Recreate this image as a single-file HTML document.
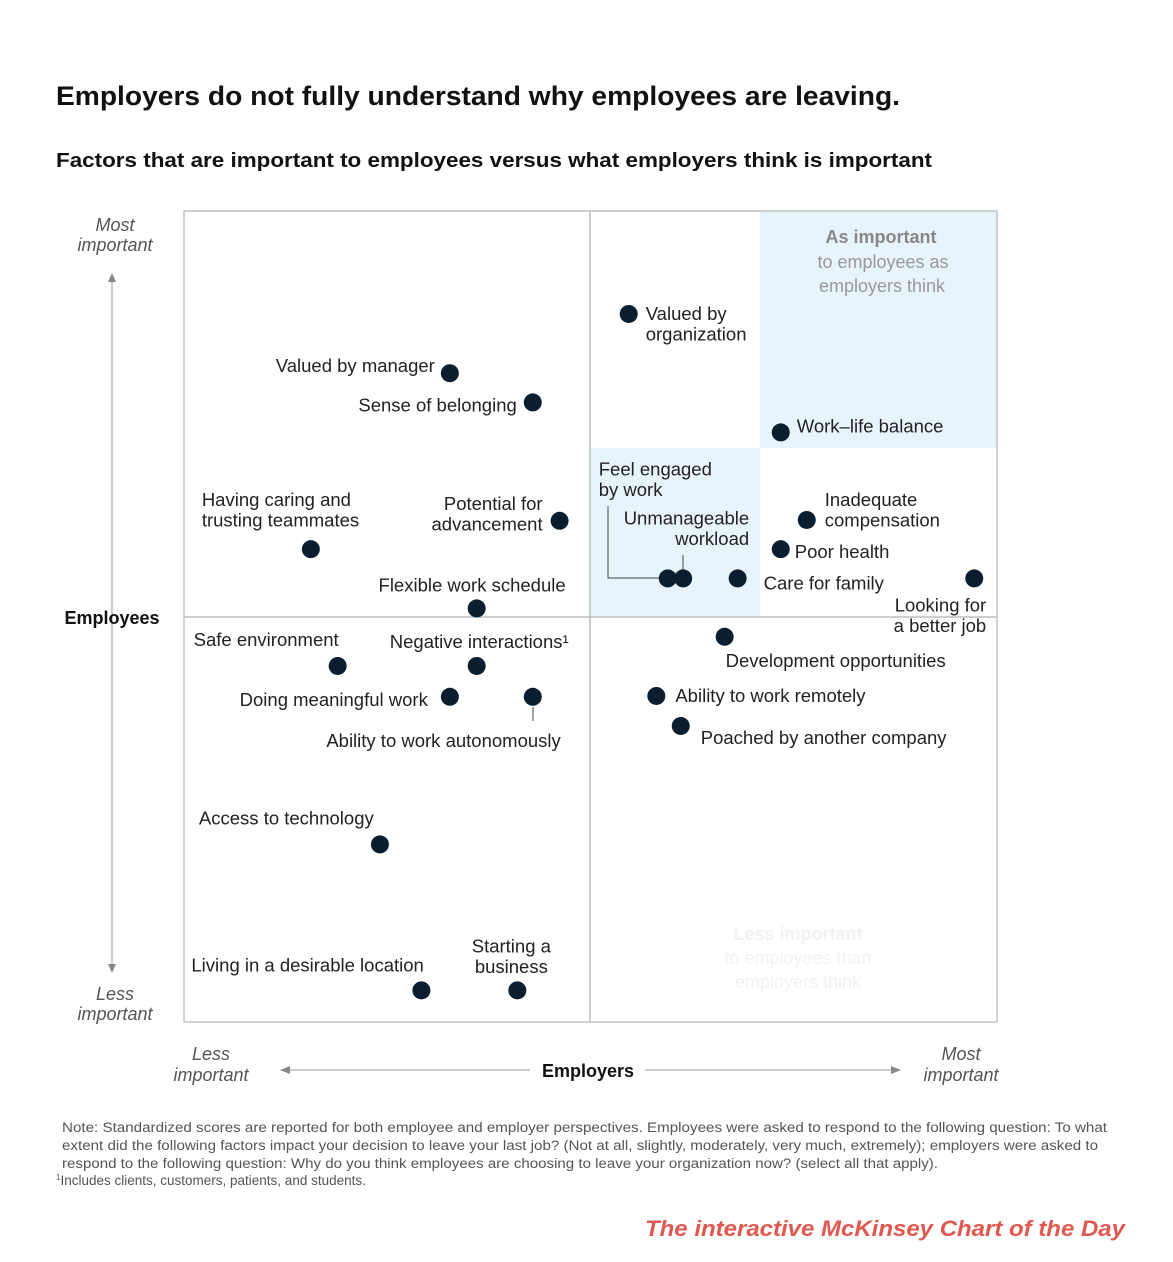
<!DOCTYPE html>
<html><head><meta charset="utf-8"><style>
body{margin:0;background:#fff;}
svg{display:block;font-family:"Liberation Sans",sans-serif;}
</style></head><body>
<svg width="1173" height="1262" viewBox="0 0 1173 1262">
<text x="56" y="105" font-size="27" font-weight="bold" fill="#111" textLength="844" lengthAdjust="spacingAndGlyphs">Employers do not fully understand why employees are leaving.</text>
<text x="56" y="167" font-size="20" font-weight="bold" fill="#111" textLength="876" lengthAdjust="spacingAndGlyphs">Factors that are important to employees versus what employers think is important</text>
<rect x="760" y="211" width="237" height="237" fill="#e8f4fb"/>
<rect x="590" y="448" width="170" height="169" fill="#e8f4fb"/>
<rect x="184" y="211" width="813" height="811" fill="none" stroke="#c4c4c4" stroke-width="1.5"/>
<line x1="590" y1="211" x2="590" y2="1022" stroke="#bdbdbd" stroke-width="1.5"/>
<line x1="184" y1="617" x2="997" y2="617" stroke="#bdbdbd" stroke-width="1.5"/>
<g font-size="18" text-anchor="middle">
<text x="881" y="243" font-weight="bold" fill="#888">As important</text>
<text x="883" y="268" fill="#999">to employees as</text>
<text x="882" y="292" fill="#999">employers think</text>
</g>
<g font-size="18" text-anchor="middle" fill="#f2f2f2">
<text x="798" y="940" font-weight="bold">Less important</text>
<text x="798" y="964">to employees than</text>
<text x="798" y="988">employers think</text>
</g>
<g font-size="18" font-style="italic" fill="#555" text-anchor="middle">
<text x="115" y="231">Most</text><text x="115" y="251">important</text>
<text x="115" y="1000">Less</text><text x="115" y="1020">important</text>
<line x1="112" y1="280" x2="112" y2="966" stroke="#999" stroke-width="1"/>
<path d="M108,282 L112,273 L116,282Z" fill="#888"/>
<path d="M108,964 L112,973 L116,964Z" fill="#888"/>
<text x="112" y="624" font-style="normal" font-weight="bold" fill="#111">Employees</text>
</g>
<g font-size="18" font-style="italic" fill="#555" text-anchor="middle">
<text x="211" y="1060">Less</text><text x="211" y="1081">important</text>
<text x="961" y="1060">Most</text><text x="961" y="1081">important</text>
<line x1="288" y1="1070" x2="530" y2="1070" stroke="#999"/>
<line x1="645" y1="1070" x2="893" y2="1070" stroke="#999"/>
<path d="M290,1066 L280,1070 L290,1074Z" fill="#888"/>
<path d="M891,1066 L901,1070 L891,1074Z" fill="#888"/>
<text x="588" y="1077" font-style="normal" font-weight="bold" fill="#111">Employers</text>
</g>
<g stroke="#666" stroke-width="1.2" fill="none">
<polyline points="608,506 608,578 660,578"/>
<line x1="683" y1="555" x2="683" y2="570"/>
<line x1="533" y1="707" x2="533" y2="721"/>
</g>
<g id="marks"></g>
<g font-size="13.5" fill="#555">
<text x="62" y="1132" textLength="1045" lengthAdjust="spacingAndGlyphs">Note: Standardized scores are reported for both employee and employer perspectives. Employees were asked to respond to the following question: To what</text>
<text x="62" y="1150" textLength="1036" lengthAdjust="spacingAndGlyphs">extent did the following factors impact your decision to leave your last job? (Not at all, slightly, moderately, very much, extremely); employers were asked to</text>
<text x="62" y="1168" textLength="876" lengthAdjust="spacingAndGlyphs">respond to the following question: Why do you think employees are choosing to leave your organization now? (select all that apply).</text>
<text x="56" y="1185"><tspan font-size="8" dy="-5">1</tspan><tspan dy="5">Includes clients, customers, patients, and students.</tspan></text>
</g>
<text x="645" y="1236" font-size="22" font-weight="bold" font-style="italic" fill="#e0584f" textLength="480" lengthAdjust="spacingAndGlyphs">The interactive McKinsey Chart of the Day</text>
</svg>
<script>
const factors=["Valued by organization","Valued by manager","Sense of belonging","Work–life balance","Potential for advancement","Inadequate compensation","Having caring and trusting teammates","Poor health","Feel engaged by work","Unmanageable workload","Care for family","Looking for a better job","Flexible work schedule","Development opportunities","Safe environment","Negative interactions","Doing meaningful work","Ability to work autonomously","Ability to work remotely","Poached by another company","Access to technology","Living in a desirable location","Starting a business"];
const employerScores=[54.7,32.7,42.9,73.4,46.2,76.6,15.6,73.4,59.5,61.4,68.1,97.2,36.0,66.5,18.9,36.0,32.7,42.9,58.1,61.1,24.1,29.2,41.0];
const employeeScores=[87.3,80.0,76.4,72.7,61.8,61.9,58.3,58.3,54.7,54.7,54.7,54.7,51.0,47.5,43.9,43.9,40.1,40.1,40.2,36.5,21.9,3.9,3.9];
const labelLines=[["Valued by","organization"],["Valued by manager"],["Sense of belonging"],["Work–life balance"],["Potential for","advancement"],["Inadequate","compensation"],["Having caring and","trusting teammates"],["Poor health"],["Feel engaged","by work"],["Unmanageable","workload"],["Care for family"],["Looking for","a better job"],["Flexible work schedule"],["Development opportunities"],["Safe environment"],["Negative interactions¹"],["Doing meaningful work"],["Ability to work autonomously"],["Ability to work remotely"],["Poached by another company"],["Access to technology"],["Living in a desirable location"],["Starting a","business"]];
const labelLayout=[[17,0,"start"],[-15,-7,"end"],[-16,3,"end"],[16,-6,"start"],[-17,-17,"end"],[18,-20,"start"],[-109,-49,"start"],[14,3,"start"],[-69,-109,"start"],[66,-60,"end"],[26,5,"start"],[12,27,"end"],[89,-23,"end"],[1,24,"start"],[-144,-26,"start"],[92,-24,"end"],[-22,3,"end"],[28,44,"end"],[19,0,"start"],[20,12,"start"],[-181,-26,"start"],[-230,-25,"start"],[-6,-44,"middle"]];
const xScale=v=>184+v*8.13;
const yScale=v=>1022-v*8.11;
const NS="http://www.w3.org/2000/svg";
const g=document.getElementById('marks');
factors.forEach((f,i)=>{
  const cx=xScale(employerScores[i]), cy=yScale(employeeScores[i]);
  const c=document.createElementNS(NS,'circle');
  c.setAttribute('cx',cx);c.setAttribute('cy',cy);c.setAttribute('r',9);c.setAttribute('fill','#0b1e30');
  
  
  g.appendChild(c);
  const [dx,dy,anc]=labelLayout[i];
  const t=document.createElementNS(NS,'text');
  t.setAttribute('font-size','18.5');t.setAttribute('fill','#222');t.setAttribute('text-anchor',anc);
  
  
  labelLines[i].forEach((ln,j)=>{
    const s=document.createElementNS(NS,'tspan');
    s.setAttribute('x',cx+dx);s.setAttribute('y',cy+dy+6+j*20.5);
    s.textContent=ln;t.appendChild(s);
  });
  g.appendChild(t);
});
</script>
</body></html>
